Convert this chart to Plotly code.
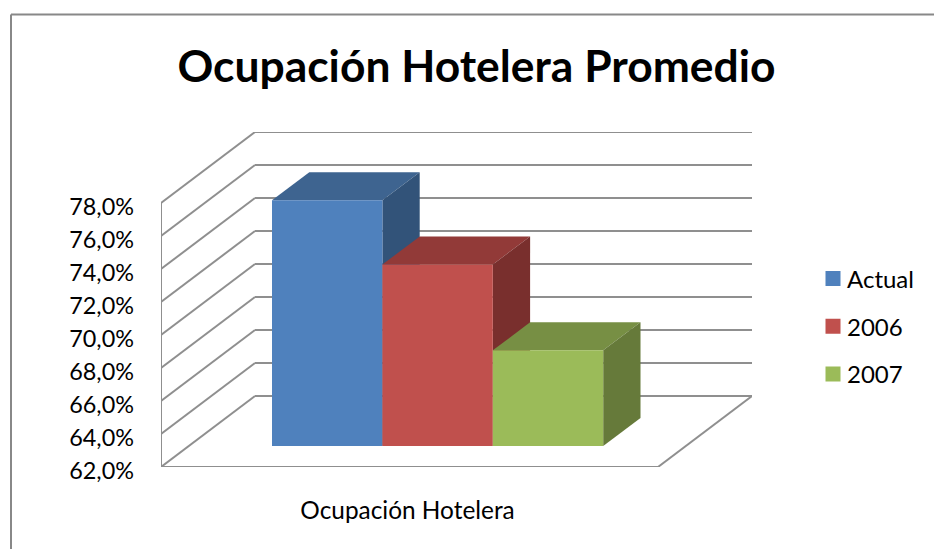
import plotly.graph_objects as go

# --- data ---
series = ["Actual", "2006", "2007"]
values = [76.9, 73.0, 67.8]
category = "Ocupación Hotelera"
title = "Ocupación Hotelera Promedio"
ticks = [62, 64, 66, 68, 70, 72, 74, 76, 78]
tick_labels = ["62,0%", "64,0%", "66,0%", "68,0%", "70,0%", "72,0%", "74,0%", "76,0%", "78,0%"]
front_colors = ["#4F81BD", "#C0504D", "#9BBB59"]
top_colors = ["#3E6490", "#923A38", "#778F44"]
side_colors = ["#325379", "#792F2D", "#667A3A"]

W, H = 934, 549
GRID = "#8F8F8F"
FONT = "Lato"

# oblique-projection geometry
PX_PER_UNIT_X = 110.4      # one bar wide
PX_PER_UNIT_Y = 16.5       # one percentage point
LEFT_PX, RIGHT_PX, BOTTOM_PX, TOP_PX = 161, 752, 467, 132
BAR0_CENTER_PX = 327.2
BASE = ticks[0]
x_range = [(LEFT_PX - BAR0_CENTER_PX) / PX_PER_UNIT_X, (RIGHT_PX - BAR0_CENTER_PX) / PX_PER_UNIT_X]
y_range = [BASE, BASE + (BOTTOM_PX - TOP_PX) / PX_PER_UNIT_Y]
floor_dx, floor_dy = 94 / PX_PER_UNIT_X, 71 / PX_PER_UNIT_Y      # full depth of the floor
bar_dx, bar_dy = 37.3 / PX_PER_UNIT_X, 28 / PX_PER_UNIT_Y        # depth of a bar
bar_shift = 21 / PX_PER_UNIT_Y                                   # bar front plane above front floor edge
x0 = x_range[0]
x1 = x_range[1] - floor_dx
floor_mid = (x0 + x1) / 2 - 2 / PX_PER_UNIT_X

fig = go.Figure()

# walls and floor
shapes = []
def seg(xa, ya, xb, yb):
    shapes.append(dict(type="line", xref="x", yref="y", x0=xa, y0=ya, x1=xb, y1=yb,
                       layer="below", line=dict(color=GRID, width=2)))
for t in ticks:
    seg(x0, t, x0 + floor_dx, t + floor_dy)
    seg(x0 + floor_dx, t + floor_dy, x_range[1], t + floor_dy)
seg(x0, ticks[0], x0, ticks[-1])
seg(x0, BASE, x1, BASE)
seg(x1, BASE, x1 + floor_dx, BASE + floor_dy)

# bars: top and side faces, derived from the values
for i, (name, v) in enumerate(zip(series, values)):
    l, r = i - 0.5, i + 0.5
    b = BASE + bar_shift
    t = v + bar_shift
    fig.add_trace(go.Scatter(
        x=[l, l + bar_dx, r + bar_dx, r, l], y=[t, t + bar_dy, t + bar_dy, t, t],
        mode="lines", fill="toself", fillcolor=top_colors[i], line=dict(width=0),
        showlegend=False, hoverinfo="skip"))
    fig.add_trace(go.Scatter(
        x=[r, r + bar_dx, r + bar_dx, r, r], y=[t, t + bar_dy, b + bar_dy, b, t],
        mode="lines", fill="toself", fillcolor=side_colors[i], line=dict(width=0),
        showlegend=False, hoverinfo="skip"))

# bars: front faces, on an overlaid pair of axes so they sit above the faces behind them
for i, (name, v) in enumerate(zip(series, values)):
    fig.add_trace(go.Bar(
        x=[i], y=[v - BASE], base=[BASE + bar_shift], width=1, name=name,
        marker=dict(color=front_colors[i], line=dict(width=0)),
        xaxis="x2", yaxis="y2", showlegend=False))

# legend entries
for i, name in enumerate(series):
    fig.add_trace(go.Scatter(
        x=[None], y=[None], mode="markers", name=name, legendgroup=name,
        marker=dict(symbol="square", size=15, color=front_colors[i])))

# chart frame
frame = dict(type="line", xref="paper", yref="paper", line=dict(color="#888888", width=2))
shapes.append(dict(frame, x0=11 / W, x1=11 / W, y0=0, y1=1 - 14.5 / H))
shapes.append(dict(frame, x0=11 / W, x1=1, y0=1 - 14.5 / H, y1=1 - 14.5 / H))

dom_x = [LEFT_PX / W, RIGHT_PX / W]
dom_y = [1 - BOTTOM_PX / H, 1 - TOP_PX / H]
fig.update_layout(
    template="none",
    width=W, height=H, autosize=False,
    margin=dict(l=0, r=0, t=0, b=0, pad=0),
    paper_bgcolor="white", plot_bgcolor="rgba(0,0,0,0)",
    barmode="overlay",
    font=dict(family=FONT, color="black"),
    shapes=shapes,
    title=dict(text="<b>" + title + "</b>", x=476.5 / W, xanchor="center", y=1 - 66 / H, yanchor="middle",
               font=dict(family=FONT, size=44.4, color="black")),
    xaxis=dict(domain=dom_x, range=x_range, tickmode="array", tickvals=[floor_mid], ticktext=[category],
               showgrid=False, zeroline=False, showline=False, ticks="", ticklabelstandoff=27,
               automargin=False, tickfont=dict(family=FONT, size=24.4, color="black")),
    yaxis=dict(domain=dom_y, range=y_range, tickmode="array", tickvals=ticks, ticktext=tick_labels,
               showgrid=False, zeroline=False, showline=False, ticks="", ticklabelstandoff=26,
               automargin=False, ticklabelshift=4, tickfont=dict(family=FONT, size=23.4, color="black")),
    xaxis2=dict(overlaying="x", range=x_range, visible=False),
    yaxis2=dict(overlaying="y", range=y_range, visible=False),
    legend=dict(x=813 / W, xanchor="left", y=1 - 256.5 / H, yanchor="top", tracegroupgap=13.5, indentation=-6,
                bgcolor="rgba(0,0,0,0)", font=dict(family=FONT, size=24, color="black"),
                itemclick=False, itemdoubleclick=False),
)

fig.write_html("out.html", config={"displayModeBar": False},
               post_script="""document.body.style.margin='0';
document.querySelectorAll('.legend .legendsymbols').forEach(function(s){s.setAttribute('transform','translate(6,0)');});""")
